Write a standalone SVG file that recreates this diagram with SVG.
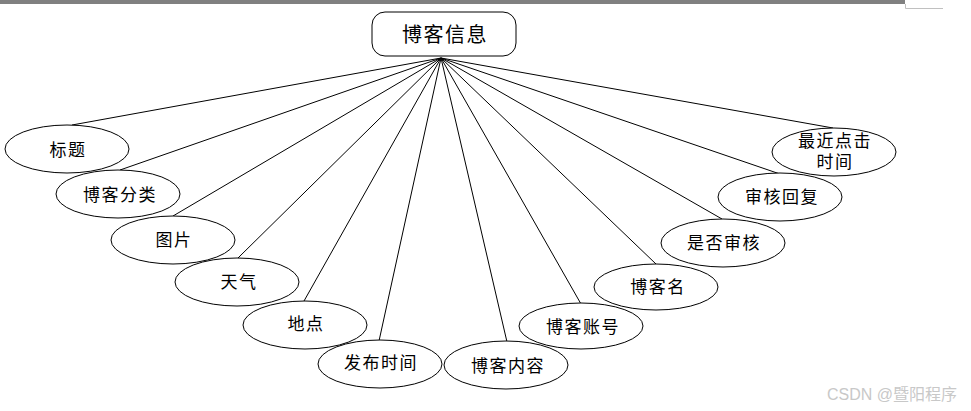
<svg xmlns="http://www.w3.org/2000/svg" width="971" height="411" viewBox="0 0 971 411">
<style>
.e{fill:#fff;stroke:#000;stroke-width:1}
.t{font-family:"Liberation Serif","Noto Sans CJK SC",serif;font-size:17px;letter-spacing:1.5px;fill:#000;text-anchor:middle;dominant-baseline:central}
.c line{stroke:#000;stroke-width:1}
</style>
<rect x="0" y="0" width="971" height="411" fill="#fff"/>
<rect x="0" y="0" width="905" height="4" fill="#808080"/>
<path d="M905.5 4V8.5H943" fill="none" stroke="#c0c0c0" stroke-width="1"/>
<g id="connectors" class="c">
<line x1="441" y1="58" x2="72" y2="125"/>
<line x1="441" y1="58" x2="120" y2="170"/>
<line x1="441" y1="58" x2="173" y2="216"/>
<line x1="441" y1="58" x2="238" y2="258"/>
<line x1="441" y1="58" x2="304" y2="301"/>
<line x1="441" y1="58" x2="379" y2="341"/>
<line x1="441" y1="58" x2="507" y2="342"/>
<line x1="441" y1="58" x2="581" y2="304"/>
<line x1="441" y1="58" x2="656" y2="264"/>
<line x1="441" y1="58" x2="722" y2="219"/>
<line x1="441" y1="58" x2="780" y2="174"/>
<line x1="441" y1="58" x2="833" y2="128"/>
</g>
<g id="root">
<rect x="372" y="12" width="144" height="44" rx="13" ry="13" class="e"/>
<text x="445" y="35" class="t" style="font-size:20px">博客信息</text>
</g>
<g id="n1"><ellipse cx="67" cy="149" rx="62" ry="24" class="e"/><text x="68" y="150" class="t">标题</text></g>
<g id="n2"><ellipse cx="118" cy="194" rx="62" ry="24" class="e"/><text x="120" y="195" class="t">博客分类</text></g>
<g id="n3"><ellipse cx="173" cy="240" rx="62" ry="24" class="e"/><text x="174" y="240" class="t">图片</text></g>
<g id="n4"><ellipse cx="237" cy="282" rx="62" ry="24" class="e"/><text x="239" y="282" class="t">天气</text></g>
<g id="n5"><ellipse cx="305" cy="325" rx="62" ry="24" class="e"/><text x="306" y="324" class="t">地点</text></g>
<g id="n6"><ellipse cx="380" cy="364" rx="62" ry="24" class="e"/><text x="381" y="363" class="t">发布时间</text></g>
<g id="n7"><ellipse cx="506" cy="365" rx="62" ry="24" class="e"/><text x="508" y="366" class="t">博客内容</text></g>
<g id="n8"><ellipse cx="581" cy="326" rx="62" ry="23" class="e"/><text x="583" y="327" class="t">博客账号</text></g>
<g id="n9"><ellipse cx="656" cy="287" rx="62" ry="23" class="e"/><text x="658" y="287" class="t">博客名</text></g>
<g id="n10"><ellipse cx="723" cy="243" rx="62" ry="24" class="e"/><text x="724" y="243" class="t">是否审核</text></g>
<g id="n11"><ellipse cx="780" cy="197" rx="62" ry="24" class="e"/><text x="782" y="197" class="t">审核回复</text></g>
<g id="n12"><ellipse cx="834" cy="152" rx="62" ry="24" class="e"/><text x="835" y="141" class="t">最近点击</text><text x="835" y="162" class="t">时间</text></g>
<text x="892" y="394" style="font-family:'Liberation Sans','Noto Sans CJK SC',sans-serif;font-size:16px;fill:#c8c8c8;text-anchor:middle;dominant-baseline:central">CSDN @暨阳程序</text>
</svg>
